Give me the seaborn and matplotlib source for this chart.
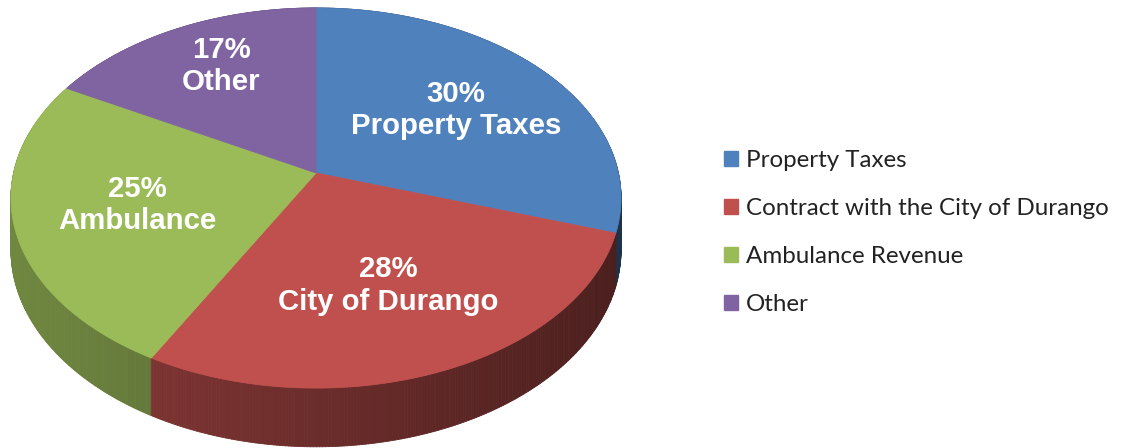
import numpy as np
import matplotlib
matplotlib.use("Agg")
import matplotlib.pyplot as plt
import seaborn as sns
from matplotlib.collections import PolyCollection
from matplotlib.patches import Patch

# Daten
legend_labels = ["Property Taxes", "Contract with the City of Durango", "Ambulance Revenue", "Other"]
slice_labels = ["Property Taxes", "City of Durango", "Ambulance", "Other"]
shares = [30, 28, 25, 17]
colors = ["#4F81BD", "#C0504D", "#9BBB59", "#8064A2"]

sns.set_theme(style="white")

# Geometrie der 3D-Torte (Pixelkoordinaten, Perspektive)
CX, CY = 316, 173
A, C = 164.0, -0.1316
S = 302.4
DEPTH = 51.0


def proj(u, v, drop=0.0):
    w = 1 + C * v
    return CX + S * u / w, (A * v + CY + drop) / w


fig = plt.figure(figsize=(11.22, 4.48), dpi=100)
ax = fig.add_axes([0, 0, 1, 1])
ax.set_xlim(0, 1122)
ax.set_ylim(448, 0)
ax.axis("off")

# Winkel: Start oben, im Uhrzeigersinn
fracs = np.array(shares) / np.sum(shares)
bounds = 90 - 360 * np.concatenate([[0], np.cumsum(fracs)])

# Seitenflaechen
quads, qcols, qdepth = [], [], []
for i, col in enumerate(colors):
    rgb = np.array(matplotlib.colors.to_rgb(col))
    th = np.radians(np.linspace(bounds[i], bounds[i + 1], 200))
    for t0, t1 in zip(th[:-1], th[1:]):
        u0, v0 = np.cos(t0), -np.sin(t0)
        u1, v1 = np.cos(t1), -np.sin(t1)
        p0 = proj(u0, v0)
        p1 = proj(u1, v1)
        q1 = proj(u1, v1, DEPTH)
        q0 = proj(u0, v0, DEPTH)
        xm = (p0[0] + p1[0]) / 2
        f = np.clip(0.72 - 0.33 * (xm - 20) / 600, 0.36, 0.75)
        quads.append([p0, p1, q1, q0])
        qcols.append(rgb * f)
        qdepth.append((v0 + v1) / 2)
order = np.argsort(qdepth)
pc = PolyCollection([quads[k] for k in order], facecolors=[qcols[k] for k in order],
                    edgecolors=[qcols[k] for k in order], linewidths=0.6)
ax.add_collection(pc)

# Deckflaeche
for i, col in enumerate(colors):
    th = np.radians(np.linspace(bounds[i], bounds[i + 1], 200))
    pts = [proj(0, 0)] + [proj(np.cos(t), -np.sin(t)) for t in th]
    ax.add_patch(plt.Polygon(pts, closed=True, facecolor=col, edgecolor=col, linewidth=0.6))

# Beschriftungen
for i, (lab, sh) in enumerate(zip(slice_labels, shares)):
    mid = np.radians((bounds[i] + bounds[i + 1]) / 2)
    r = 0.6 if sh > 20 else 0.72
    x, y = proj(r * np.cos(mid), -r * np.sin(mid))
    ax.text(x + (8 if sh < 20 else 0), y, f"{sh}%\n{lab}", ha="center", va="center",
            color="white", fontsize=21.2, fontweight="bold", family="Liberation Sans",
            linespacing=1.2)

# Legende
handles = [Patch(facecolor=c, edgecolor=c) for c in colors]
leg = fig.legend(handles, legend_labels, loc="center left",
                 bbox_to_anchor=(702 / 1122, 1 - 232.5 / 448), frameon=False,
                 prop={"family": "Lato", "size": 17.4}, handlelength=0.58,
                 handleheight=0.58, handletextpad=0.35, labelspacing=1.12)
for t in leg.get_texts():
    t.set_color("#222222")

fig.savefig("out.png", dpi=100)
